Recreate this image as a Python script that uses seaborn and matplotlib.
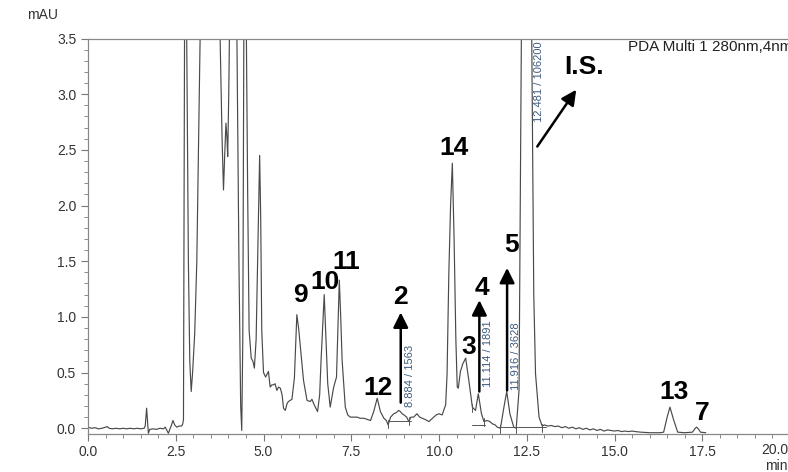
import numpy as np
import pandas as pd
import matplotlib
matplotlib.use('Agg')
import matplotlib.pyplot as plt
from matplotlib.ticker import MultipleLocator, FormatStrFormatter, FuncFormatter
import seaborn as sns

# chromatogram trace (time in min, signal in mAU)
time_min = [
    0.0, 0.1, 0.2, 0.3, 0.4, 0.5, 0.55, 0.6, 0.7, 0.8, 0.9, 1.0, 1.1, 1.2, 1.3, 1.4, 1.5, 1.6,
    1.63, 1.67, 1.70, 1.72, 1.76, 1.85, 1.95, 2.05, 2.15, 2.20, 2.25, 2.29, 2.33, 2.38, 2.42,
    2.47, 2.53, 2.60, 2.67, 2.70, 2.72, 2.75, 2.78, 2.81, 2.86, 2.90, 2.94, 2.98, 3.04, 3.10,
    3.16, 3.20, 3.30, 3.45, 3.60, 3.74, 3.77, 3.82, 3.86, 3.90, 3.93, 3.96, 3.98, 4.01, 4.04,
    4.12, 4.20, 4.24, 4.30, 4.35, 4.38, 4.41, 4.44, 4.47, 4.51, 4.55, 4.59, 4.65, 4.70, 4.74,
    4.79, 4.83, 4.89, 4.92, 4.95, 5.00, 5.06, 5.14, 5.19, 5.24, 5.29, 5.33, 5.38, 5.43, 5.48,
    5.53, 5.57, 5.62, 5.67, 5.71, 5.76, 5.81, 5.88, 5.95, 6.00, 6.05, 6.14, 6.24, 6.33, 6.38,
    6.43, 6.54, 6.60, 6.64, 6.73, 6.78, 6.83, 6.90, 7.00, 7.08, 7.16, 7.20, 7.24, 7.33, 7.40,
    7.47, 7.55, 7.67, 7.75, 7.86, 7.95, 8.05, 8.14, 8.24, 8.33, 8.43, 8.50, 8.55, 8.62, 8.71,
    8.78, 8.85, 8.90, 8.95, 9.00, 9.08, 9.14, 9.20, 9.28, 9.37, 9.45, 9.52, 9.60, 9.71, 9.78,
    9.85, 9.92, 10.00, 10.09, 10.19, 10.23, 10.28, 10.33, 10.38, 10.43, 10.48, 10.52, 10.55,
    10.61, 10.68, 10.76, 10.85, 10.95, 11.04, 11.12, 11.21, 11.28, 11.37, 11.45, 11.52, 11.60,
    11.66, 11.75, 11.85, 11.93, 12.02, 12.13, 12.20, 12.28, 12.35, 12.48, 12.64, 12.70, 12.75,
    12.85, 12.94, 13.00, 13.10, 13.20, 13.30, 13.40, 13.50, 13.60, 13.70, 13.80, 13.90, 14.00,
    14.10, 14.20, 14.30, 14.40, 14.50, 14.60, 14.70, 14.80, 14.90, 15.00, 15.10, 15.20, 15.30,
    15.40, 15.50, 15.60, 15.75, 16.00, 16.30, 16.40, 16.50, 16.58, 16.68, 16.80, 17.00, 17.22,
    17.30, 17.34, 17.40, 17.45, 17.60,
]
signal_mau = [
    0.01, 0.0, 0.005, -0.005, 0.0, 0.01, 0.015, 0.0, -0.005, 0.0, -0.005, 0.0, -0.005, 0.0, -0.005, 0.0, -0.005, 0.0,
    0.02, 0.18, 0.05, -0.045, -0.01, -0.005, -0.01, 0.0, -0.005, 0.01, -0.02, -0.045, -0.01, 0.03, 0.07,
    0.03, 0.01, 0.02, 0.02, 0.04, 0.08, 3.6, 6.0, 3.6, 1.5, 0.6, 0.33, 0.5, 0.85, 1.5,
    2.8, 3.6, 6.0, 8.0, 7.0, 4.0, 3.4, 2.6, 2.14, 2.5, 2.74, 2.6, 2.44, 3.0, 3.8,
    6.0, 5.0, 3.6, 1.5, 0.2, -0.02, 0.8, 3.6, 6.0, 3.6, 2.08, 0.88, 0.63, 0.60, 0.54,
    0.8, 1.48, 2.45, 1.9, 0.88, 0.50, 0.46, 0.51, 0.37, 0.39, 0.39, 0.40, 0.34, 0.37, 0.36,
    0.30, 0.18, 0.16, 0.22, 0.24, 0.25, 0.26, 0.45, 1.02, 0.90, 0.73, 0.43, 0.25, 0.24, 0.26,
    0.22, 0.15, 0.30, 0.61, 1.20, 0.80, 0.40, 0.19, 0.37, 0.46, 1.33, 1.0, 0.61, 0.19, 0.12,
    0.10, 0.10, 0.10, 0.09, 0.09, 0.08, 0.07, 0.15, 0.27, 0.15, 0.09, 0.07, 0.03, 0.10, 0.13,
    0.14, 0.16, 0.15, 0.13, 0.12, 0.10, 0.06, 0.10, 0.10, 0.13, 0.10, 0.09, 0.08, 0.06, 0.08,
    0.10, 0.12, 0.13, 0.12, 0.21, 0.49, 1.39, 2.0, 2.38, 1.7, 0.8, 0.37, 0.36,
    0.51, 0.58, 0.63, 0.43, 0.19, 0.16, 0.31, 0.13, 0.06, 0.07, 0.06, 0.04, 0.03,
    0.01, 0.0, 0.19, 0.33, 0.13, 0.01, 0.0, 0.34, 3.6, 12.0, 3.6, 1.2, 0.49,
    0.10, 0.02, 0.03, 0.02, 0.025, 0.015, 0.02, 0.005, 0.015, 0.0, 0.01, -0.005, 0.005,
    -0.01, 0.0, -0.015, -0.005, -0.02, -0.01, -0.025, -0.015, -0.02, -0.025, -0.02, -0.03, -0.025,
    -0.03, -0.025, -0.03, -0.035, -0.04, -0.04, -0.035, 0.10, 0.19, 0.08, -0.035, -0.04, -0.035,
    0.0, 0.01, -0.01, -0.035, -0.04,
]

# integration baselines drawn by the software: start, end, level
base_start = [8.55, 10.95, 11.70]
base_end = [9.19, 11.30, 13.05]
base_level = [0.065, 0.03, 0.01]
# peak boundary markers
marker_time = [8.55, 9.14, 10.95, 11.28, 11.75, 12.20, 12.94]
marker_level = [0.04, 0.07, 0.19, 0.06, 0.0, 0.0, 0.01]

# peak numbers (text, x, y)
peak_names = ['9', '10', '11', '12', '2', '14', '3', '4', '5', 'I.S.', '13', '7']
peak_x = [6.06, 6.74, 7.37, 8.26, 8.91, 10.43, 10.86, 11.23, 12.06, 14.14, 16.69, 17.49]
peak_y = [1.20, 1.31, 1.49, 0.36, 1.18, 2.52, 0.73, 1.26, 1.65, 3.24, 0.33, 0.14]

# arrows (tail -> tip)
arrow_tail = [(8.91, 0.23), (11.15, 0.33), (11.94, 0.34), (12.80, 2.53)]
arrow_tip = [(8.91, 1.04), (11.15, 1.15), (11.94, 1.44), (13.91, 3.04)]

# retention time / area texts from the software
rt_labels = ['8.884 / 1563', '11.114 / 1891', '11.916 / 3628', '12.481 / 106200']
rt_x = [9.17, 11.39, 12.20, 12.84]
rt_y = [0.19, 0.37, 0.34, 2.75]

df = pd.DataFrame({'time': time_min, 'signal': signal_mau})

sns.set_style('ticks')
plt.rcParams['font.family'] = ['Liberation Sans', 'DejaVu Sans']

fig = plt.figure(figsize=(7.88, 4.72), dpi=100)
ax = fig.add_axes([88 / 788, 1 - 433.5 / 472, 702 / 788, (433.5 - 38.5) / 472])

sns.lineplot(data=df, x='time', y='signal', ax=ax, color='#4a4a4a', lw=0.85,
             estimator=None, sort=False)

for s, e, lv in zip(base_start, base_end, base_level):
    ax.plot([s, e], [lv, lv], color='#555555', lw=0.7)
for t, lv in zip(marker_time, marker_level):
    ax.plot([t, t], [lv - 0.04, lv + 0.03], color='#555555', lw=0.7)

for name, x, y in zip(peak_names, peak_x, peak_y):
    ax.text(x, y, name, fontsize=19, fontweight='bold', ha='center', va='center', color='black')

for tail, tip in zip(arrow_tail, arrow_tip):
    ax.annotate('', xy=tip, xytext=tail,
                arrowprops=dict(arrowstyle='-|>,head_length=0.9,head_width=0.45',
                                color='black', lw=1.8, shrinkA=0, shrinkB=0))

for lab, x, y in zip(rt_labels, rt_x, rt_y):
    ax.text(x, y, lab, rotation=90, fontsize=8, color='#3d5a80', ha='center', va='bottom')

ax.set_xlim(0, 20)
ax.set_ylim(-0.047, 3.5)
ax.xaxis.set_major_locator(MultipleLocator(2.5))
ax.xaxis.set_minor_locator(MultipleLocator(0.5))
ax.yaxis.set_major_locator(MultipleLocator(0.5))
ax.yaxis.set_minor_locator(MultipleLocator(0.1))
# last x label is pushed inside the picture, so it is drawn separately
ax.xaxis.set_major_formatter(FuncFormatter(lambda v, p: '' if v > 19.9 else f'{v:.1f}'))
ax.yaxis.set_major_formatter(FormatStrFormatter('%.1f'))
ax.tick_params(which='major', direction='out', length=5, width=0.8, color='#777777',
               labelsize=10, labelcolor='#333333')
ax.tick_params(which='minor', direction='out', length=3, width=0.6, color='#777777')
ax.set_xlabel('')
ax.set_ylabel('')
for side in ['left', 'top', 'bottom']:
    ax.spines[side].set_color('#888888')
    ax.spines[side].set_linewidth(0.9)
ax.spines['right'].set_visible(False)

ax.annotate('20.0', xy=(1.0, 0), xycoords=('figure fraction', 'axes fraction'),
            xytext=(0, -7.1), textcoords='offset points', ha='right', va='top',
            fontsize=10, color='#333333')

fig.text(43 / 788, 1 - 15 / 472, 'mAU', fontsize=10, ha='center', va='center', color='#333333')
fig.text(1.0, 1 - 466 / 472, 'min', fontsize=10, ha='right', va='center', color='#333333')
fig.text(628 / 788, 1 - 47 / 472, 'PDA Multi 1 280nm,4nm', fontsize=11, ha='left',
         va='center', color='#222222')

fig.savefig('out.png', dpi=100)
